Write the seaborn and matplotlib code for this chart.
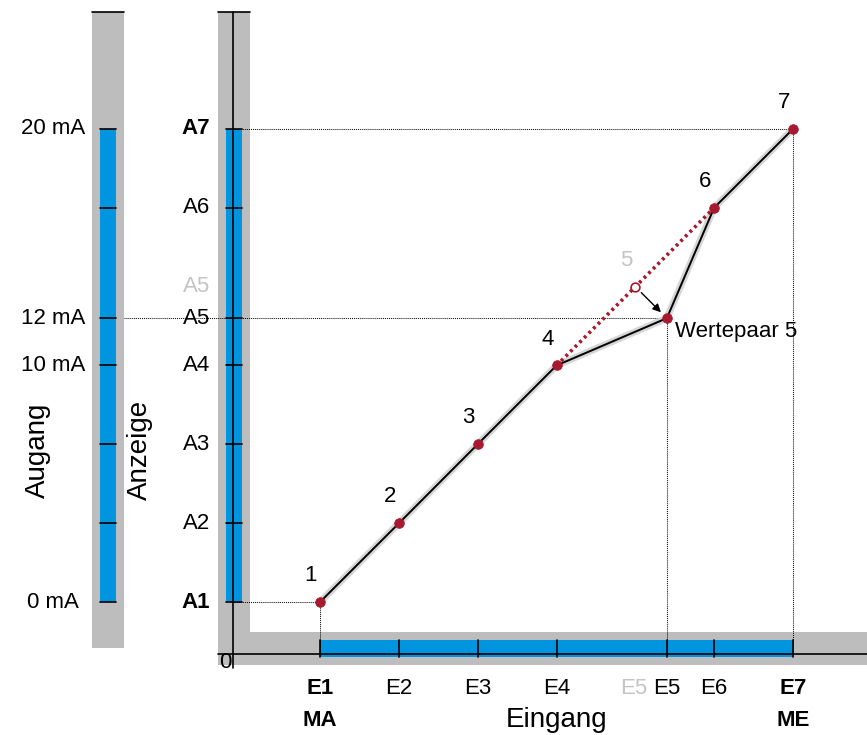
import matplotlib
matplotlib.use("Agg")
import matplotlib.pyplot as plt
import pandas as pd
import seaborn as sns

# value pairs (input in % of range, output in mA)
pair_labels = ["1", "2", "3", "4", "5", "6", "7"]
input_labels = ["E1", "E2", "E3", "E4", "E5", "E6", "E7"]
output_labels = ["A1", "A2", "A3", "A4", "A5", "A6", "A7"]
input_pct = [0, 16.67, 33.33, 50, 73.33, 83.33, 100]
output_ma = [0, 3.33, 6.67, 10, 12, 16.67, 20]

# original (uncorrected) position of pair 5
ghost_input = 66.67
ghost_output = 13.33

gauge_ma = [0, 10, 12, 20]
gauge_labels = ["0 mA", "10 mA", "12 mA", "20 mA"]

GRAY = "#bdbdbd"
BLUE = "#0095de"
RED = "#a6192e"
LIGHT = "#c4c4c4"

sns.set_style("white")
plt.rcParams["font.family"] = ["Liberation Sans", "DejaVu Sans"]
plt.rcParams["text.color"] = "black"

fig = plt.figure(figsize=(8.67, 7.35), dpi=100)
ax = fig.add_axes([0, 0, 1, 1])
ax.set_xlim(-67.65, 115.64)
ax.set_ylim(-5.62, 25.45)
ax.axis("off")

top = 24.95
# left gauge (output current)
ax.fill_between([-48.2, -41.44], -1.95, top, color=GRAY, lw=0, zorder=1)
ax.fill_between([-46.51, -43.13], 0, 20, color=BLUE, lw=0, zorder=2)
ax.plot([-48.2, -41.44], [top, top], color="black", lw=1.2, zorder=3)
for y in output_ma:
    ax.plot([-46.51, -43.13], [y, y], color="black", lw=1.2, zorder=3)

# L-shaped gray frame and blue scales of the diagram
ax.fill_between([-21.56, -14.8], -2.66, top, color=GRAY, lw=0, zorder=1)
ax.fill_between([-21.56, 115.64], -2.66, -1.27, color=GRAY, lw=0, zorder=1)
ax.fill_between([-19.87, -16.49], 0, 20, color=BLUE, lw=0, zorder=2)
ax.fill_between([0, 100], -2.33, -1.61, color=BLUE, lw=0, zorder=2)
ax.plot([-18.39, -18.39], [-2.79, top], color="black", lw=1.2, zorder=4)
ax.plot([-21.56, 115.64], [-2.2, -2.2], color="black", lw=1.2, zorder=4)
ax.plot([-21.56, -14.8], [top, top], color="black", lw=1.2, zorder=4)
for y in output_ma:
    ax.plot([-19.87, -16.49], [y, y], color="black", lw=1.2, zorder=4)
for x in input_pct:
    ax.plot([x, x], [-2.33, -1.61], color="black", lw=1.2, zorder=4)

# dotted guide lines
guide = dict(color="black", lw=0.7, ls=(0, (1, 1)), zorder=3)
ax.plot([-18.39, input_pct[6]], [output_ma[6]] * 2, **guide)
ax.plot([input_pct[6]] * 2, [output_ma[6], -2.2], **guide)
ax.plot([-41.44, input_pct[4]], [output_ma[4]] * 2, **guide)
ax.plot([input_pct[4]] * 2, [output_ma[4], -2.2], **guide)
ax.plot([-18.39, input_pct[0]], [output_ma[0]] * 2, **guide)
ax.plot([input_pct[0]] * 2, [output_ma[0], -2.2], **guide)

# characteristic curve
df = pd.DataFrame({"x": input_pct, "y": output_ma})
sns.lineplot(data=df, x="x", y="y", sort=False, color="#d6d6d6", lw=5, ax=ax, zorder=5)
sns.lineplot(data=df, x="x", y="y", sort=False, color="black", lw=1.4, ax=ax, zorder=6)

# original straight segment through the uncorrected pair 5
ax.plot([input_pct[3], ghost_input, input_pct[5]],
        [output_ma[3], ghost_output, output_ma[5]],
        color=RED, lw=2.6, ls=(0, (0.8, 1.0)), zorder=7)
sns.scatterplot(data=df, x="x", y="y", color=RED, s=48, edgecolor=RED, ax=ax, zorder=8)
ax.scatter([ghost_input], [ghost_output], s=40, facecolor="white", edgecolor=RED,
           lw=1.2, zorder=8)
ax.annotate("", xy=(input_pct[4], output_ma[4]), xytext=(ghost_input, ghost_output),
            arrowprops=dict(arrowstyle="-|>", color="black", lw=1, shrinkA=6,
                            shrinkB=6, mutation_scale=12), zorder=9)
ax.set_xlabel("")
ax.set_ylabel("")
ax.set_xlim(-67.65, 115.64)
ax.set_ylim(-5.62, 25.45)

fs = 16
for lab, x, y in zip(pair_labels, input_pct, output_ma):
    if lab == "5":
        continue
    ax.annotate(lab, (x, y), xytext=(-6.5, 19), textcoords="offset points",
                ha="center", va="center", fontsize=fs)
ax.annotate("5", (ghost_input, ghost_output), xytext=(-6.5, 19),
            textcoords="offset points", ha="center", va="center",
            fontsize=fs, color=LIGHT)
ax.annotate("Wertepaar 5", (input_pct[4], output_ma[4]), xytext=(5.5, -9.5),
            textcoords="offset points", ha="left", va="center", fontsize=fs)

# output labels
for i, (lab, y) in enumerate(zip(output_labels, output_ma)):
    bold = i in (0, 6)
    ax.text(-23.26, y, lab, ha="right", va="center", fontsize=fs,
            fontweight="bold" if bold else "normal")
ax.text(-23.26, ghost_output, "A5", ha="right", va="center", fontsize=fs, color=LIGHT)
for lab, y in zip(gauge_labels, gauge_ma):
    ax.text(-56.5, y, lab, ha="center", va="center", fontsize=fs)

# input labels
for i, (lab, x) in enumerate(zip(input_labels, input_pct)):
    bold = i in (0, 6)
    ax.text(x, -3.64, lab, ha="center", va="center", fontsize=fs,
            fontweight="bold" if bold else "normal")
ax.text(ghost_input - 0.3, -3.64, "E5", ha="center", va="center", fontsize=fs, color=LIGHT)
ax.text(input_pct[0], -4.99, "MA", ha="center", va="center", fontsize=fs, fontweight="bold")
ax.text(input_pct[6], -4.99, "ME", ha="center", va="center", fontsize=fs, fontweight="bold")
ax.text(50, -4.99, "Eingang", ha="center", va="center", fontsize=20)
ax.text(-20.1, -2.55, "0", ha="center", va="center", fontsize=fs, zorder=5)

ax.text(-59.6, 6.43, "Augang", ha="center", va="center", rotation=90, fontsize=20)
ax.text(-38.05, 6.43, "Anzeige", ha="center", va="center", rotation=90, fontsize=20)

fig.savefig("out.png", dpi=100)
plt.close(fig)
